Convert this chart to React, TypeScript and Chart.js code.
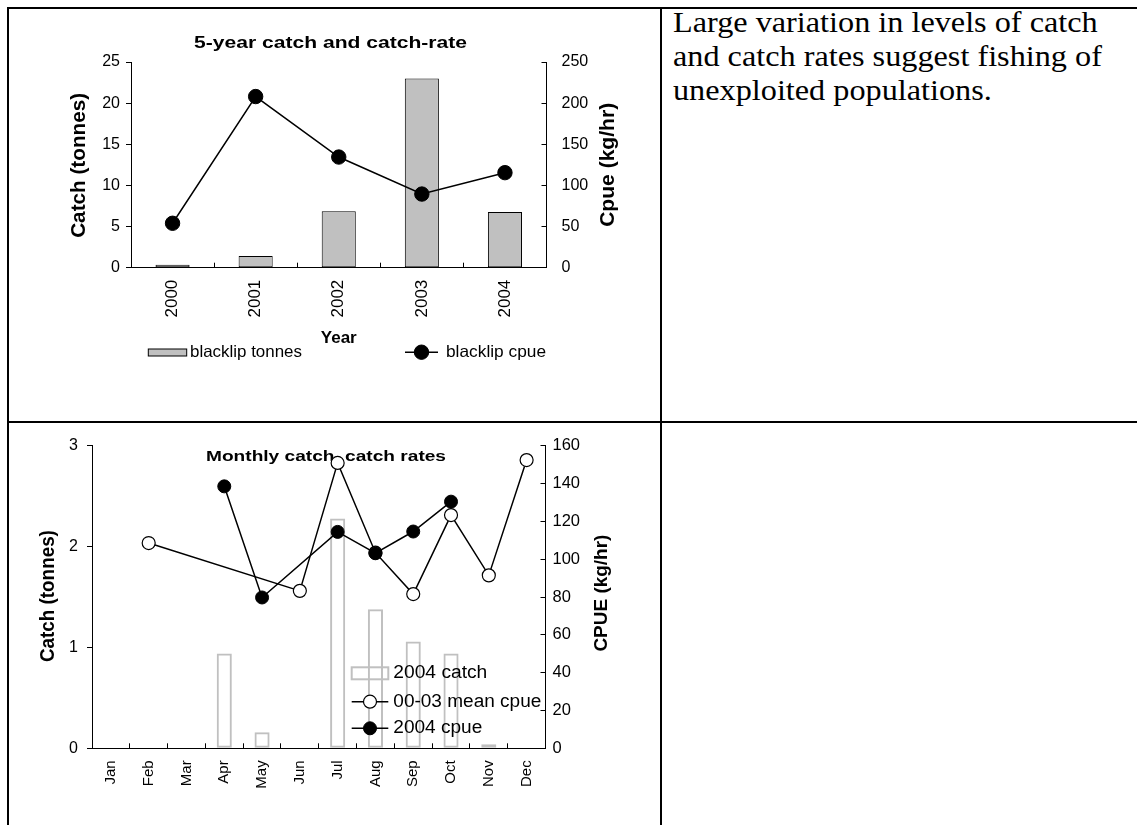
import React, { useEffect, useRef } from "react";
import { Chart, registerables } from "chart.js";

Chart.register(...registerables);

const FONT = "'Liberation Sans', Arial, Helvetica, sans-serif";

// ---- Chart 1 data ----
const years = ["2000", "2001", "2002", "2003", "2004"];
const blacklipTonnes = [0.35, 1.42, 6.85, 23.0, 6.77];
const blacklipCpue = [54, 208, 134.5, 89.5, 115.5];

// ---- Chart 2 data ----
const months = ["Jan", "Feb", "Mar", "Apr", "May", "Jun", "Jul", "Aug", "Sep", "Oct", "Nov", "Dec"];
const catch2004 = [null, null, null, 0.94, 0.16, null, 2.28, 1.38, 1.06, 0.94, 0.04, null];
const meanCpue0003 = [null, 108.6, null, null, null, 83.3, 151, 103.5, 81.6, 123.4, 91.5, 152.5];
const cpue2004 = [null, null, null, 138.6, 79.8, null, 114.5, 103.2, 114.7, 130.5, null, null];

// Titles drawn relative to the chart area (behind the data), fitted to a target length
const textPlugin = {
  id: "texts",
  beforeDatasetsDraw(chart: any, _a: any, opts: any) {
    const list = opts && opts.items;
    if (!list) return;
    const { ctx, chartArea: ca } = chart;
    for (const t of list) {
      const bx = t.ax === "left" ? ca.left : t.ax === "right" ? ca.right : (ca.left + ca.right) / 2;
      const by = t.ay === "top" ? ca.top : t.ay === "bottom" ? ca.bottom : (ca.top + ca.bottom) / 2;
      ctx.save();
      ctx.translate(bx + t.dx, by + t.dy);
      if (t.rotate) ctx.rotate((t.rotate * Math.PI) / 180);
      ctx.font = `${t.bold ? "bold " : ""}${t.size}px ${FONT}`;
      const w = ctx.measureText(t.text).width;
      if (t.width) ctx.scale(t.width / w, 1);
      ctx.textAlign = "center";
      ctx.textBaseline = "middle";
      ctx.fillStyle = "#000";
      ctx.fillText(t.text, 0, 0);
      ctx.restore();
    }
  },
};

const swatchLegendPlugin = {
  id: "swatchLegend",
  afterDraw(chart: any, _a: any, opts: any) {
    const items = opts && opts.items;
    if (!items) return;
    const { ctx, chartArea } = chart;
    for (const it of items) {
      const ds = chart.data.datasets[it.dataset];
      const x = chartArea.left + it.x;
      const y = chartArea.bottom + it.y;
      ctx.save();
      if (it.kind === "bar") {
        ctx.fillStyle = ds.backgroundColor;
        ctx.fillRect(x, y - it.h / 2, it.w, it.h);
        ctx.strokeStyle = ds.borderColor;
        ctx.lineWidth = ds.borderWidth;
        ctx.strokeRect(x, y - it.h / 2, it.w, it.h);
      } else {
        ctx.strokeStyle = ds.borderColor;
        ctx.lineWidth = ds.borderWidth;
        ctx.beginPath();
        ctx.moveTo(x, y);
        ctx.lineTo(x + it.w, y);
        ctx.stroke();
        ctx.beginPath();
        ctx.arc(x + it.w / 2, y, ds.pointRadius, 0, Math.PI * 2);
        ctx.fillStyle = ds.pointBackgroundColor;
        ctx.fill();
        ctx.lineWidth = ds.pointBorderWidth;
        ctx.strokeStyle = ds.pointBorderColor;
        ctx.stroke();
      }
      ctx.font = `${opts.size}px ${FONT}`;
      ctx.textBaseline = "middle";
      ctx.textAlign = "left";
      ctx.fillStyle = "#000";
      ctx.translate(x + it.w + it.gap, y);
      const tw = ctx.measureText(ds.label).width;
      if (it.tw) ctx.scale(it.tw / tw, 1);
      ctx.fillText(ds.label, 0, 0);
      ctx.restore();
    }
  },
};

function ChartBox({ config, style }: { config: () => any; style: React.CSSProperties }) {
  const ref = useRef<HTMLCanvasElement | null>(null);
  useEffect(() => {
    if (!ref.current) return;
    const chart = new Chart(ref.current, config());
    return () => chart.destroy();
  }, []);
  return (
    <div style={{ position: "absolute", ...style }}>
      <canvas ref={ref} />
    </div>
  );
}

const tickFont = (size: number) => ({ family: FONT, size });

function config1() {
  return {
    type: "bar",
    data: {
      labels: years,
      datasets: [
        {
          type: "line",
          label: "blacklip cpue",
          data: blacklipCpue,
          yAxisID: "y1",
          borderColor: "#000",
          borderWidth: 1.5,
          pointRadius: 7.2,
          pointBackgroundColor: "#000",
          pointBorderColor: "#000",
          pointBorderWidth: 1,
          order: 1,
        },
        {
          type: "bar",
          label: "blacklip tonnes",
          data: blacklipTonnes,
          yAxisID: "y",
          backgroundColor: "#c0c0c0",
          borderColor: "#000",
          borderWidth: 1,
          borderSkipped: false,
          barPercentage: 0.41,
          categoryPercentage: 1,
          order: 2,
        },
      ],
    },
    options: {
      responsive: true,
      maintainAspectRatio: false,
      animation: false,
      layout: { padding: { left: 0, right: 0, top: 52, bottom: 93.3 } },
      plugins: {
        legend: { display: false },
        tooltip: { enabled: false },
        title: { display: false },
        texts: {
          items: [
            { text: "5-year catch and catch-rate", bold: true, size: 16.5, width: 273, ax: "center", ay: "top", dx: -8.25, dy: -19 },
            { text: "Catch (tonnes)", bold: true, size: 20.5, width: 145, ax: "left", ay: "middle", dx: -52, dy: 0.5, rotate: -90 },
            { text: "Cpue (kg/hr)", bold: true, size: 20, width: 124, ax: "right", ay: "middle", dx: 61.5, dy: 0, rotate: -90 },
            { text: "Year", bold: true, size: 16.5, width: 36, ax: "center", ay: "bottom", dx: 0, dy: 70.5 },
          ],
        },
        swatchLegend: {
          size: 16.5,
          items: [
            { dataset: 1, kind: "bar", x: 17.3, y: 84.8, w: 38.4, h: 7, gap: 3.3, tw: 112 },
            { dataset: 0, kind: "line", x: 274, y: 84.5, w: 33, gap: 8, tw: 100 },
          ],
        },
      },
      scales: {
        x: {
          grid: { drawOnChartArea: false, offset: true, tickLength: -5, color: "#000" },
          border: { color: "#000", width: 1 },
          ticks: { minRotation: 90, maxRotation: 90, autoSkip: false, padding: 17, color: "#000", font: tickFont(17) },
          afterFit: (s: any) => { s.height = 60; },
        },
        y: {
          position: "left",
          min: 0,
          max: 25,
          grid: { drawOnChartArea: false, tickLength: 5, color: "#000" },
          border: { color: "#000", width: 1 },
          ticks: { stepSize: 5, padding: 6, color: "#000", font: tickFont(16) },
          afterFit: (s: any) => { s.width = 122; },
        },
        y1: {
          position: "right",
          min: 0,
          max: 250,
          grid: { drawOnChartArea: false, tickLength: -5, color: "#000" },
          border: { color: "#000", width: 1 },
          ticks: { stepSize: 50, padding: 20, color: "#000", font: tickFont(16) },
          afterFit: (s: any) => { s.width = 113.5; },
        },
      },
    },
    plugins: [textPlugin, swatchLegendPlugin],
  };
}

function config2() {
  return {
    type: "bar",
    data: {
      labels: months,
      datasets: [
        {
          type: "line",
          label: "2004 cpue",
          data: cpue2004,
          yAxisID: "y1",
          spanGaps: true,
          borderColor: "#000",
          borderWidth: 1.5,
          pointRadius: 6.5,
          pointBackgroundColor: "#000",
          pointBorderColor: "#000",
          pointBorderWidth: 1,
          order: 0,
        },
        {
          type: "line",
          label: "00-03 mean cpue",
          data: meanCpue0003,
          yAxisID: "y1",
          spanGaps: true,
          borderColor: "#000",
          borderWidth: 1.5,
          pointRadius: 6.5,
          pointBackgroundColor: "#fff",
          pointBorderColor: "#000",
          pointBorderWidth: 1.2,
          order: 1,
        },
        {
          type: "bar",
          label: "2004 catch",
          data: catch2004,
          yAxisID: "y",
          backgroundColor: "rgba(255,255,255,0)",
          borderColor: "#c0c0c0",
          borderWidth: 2,
          borderSkipped: false,
          barPercentage: 0.4,
          categoryPercentage: 1,
          order: 2,
        },
      ],
    },
    options: {
      responsive: true,
      maintainAspectRatio: false,
      animation: false,
      layout: { padding: { left: 0, right: 0, top: 18.3, bottom: 26.7 } },
      plugins: {
        legend: { display: false },
        tooltip: { enabled: false },
        title: { display: false },
        texts: {
          items: [
            { text: "Monthly catch, catch rates", bold: true, size: 15.5, width: 240, ax: "center", ay: "top", dx: 7.25, dy: 11 },
            { text: "Catch (tonnes)", bold: true, size: 19.5, width: 132, ax: "left", ay: "middle", dx: -43.6, dy: -1, rotate: -90 },
            { text: "CPUE (kg/hr)", bold: true, size: 19, width: 117, ax: "right", ay: "middle", dx: 56.5, dy: -4, rotate: -90 },
          ],
        },
        swatchLegend: {
          size: 18,
          items: [
            { dataset: 2, kind: "bar", x: 259.7, y: -75, w: 36.6, h: 12, gap: 5, tw: 94 },
            { dataset: 1, kind: "line", x: 259.7, y: -46.6, w: 36.6, gap: 5, tw: 148 },
            { dataset: 0, kind: "line", x: 259.7, y: -20, w: 36.6, gap: 5, tw: 89 },
          ],
        },
      },
      scales: {
        x: {
          grid: { drawOnChartArea: false, offset: true, tickLength: -5, color: "#000" },
          border: { color: "#000", width: 1 },
          ticks: { minRotation: 90, maxRotation: 90, autoSkip: false, padding: 17, color: "#000", font: tickFont(15) },
          afterFit: (s: any) => { s.height = 50; },
        },
        y: {
          position: "left",
          min: 0,
          max: 3,
          grid: { drawOnChartArea: false, tickLength: 5, color: "#000" },
          border: { color: "#000", width: 1 },
          ticks: { stepSize: 1, padding: 9, color: "#000", font: tickFont(16) },
          afterFit: (s: any) => { s.width = 83; },
        },
        y1: {
          position: "right",
          min: 0,
          max: 160,
          grid: { drawOnChartArea: false, tickLength: -5, color: "#000" },
          border: { color: "#000", width: 1 },
          ticks: { stepSize: 20, padding: 12, color: "#000", font: tickFont(16.5) },
          afterFit: (s: any) => { s.width = 114.5; },
        },
      },
    },
    plugins: [textPlugin, swatchLegendPlugin],
  };
}

const line = (s: React.CSSProperties): React.CSSProperties => ({ position: "absolute", background: "#000", ...s });

export default function App() {
  return (
    <div style={{ position: "absolute", left: 0, top: 0, width: 1137, height: 825, overflow: "hidden", background: "#fff" }}>
      {/* table borders */}
      <div style={line({ left: 7, top: 7, width: 1130, height: 2 })} />
      <div style={line({ left: 7, top: 7, width: 2, height: 818 })} />
      <div style={line({ left: 660, top: 7, width: 2, height: 818 })} />
      <div style={line({ left: 7, top: 421, width: 1130, height: 2 })} />

      <ChartBox config={config1} style={{ left: 9, top: 10, width: 651, height: 411 }} />
      <ChartBox config={config2} style={{ left: 9, top: 424, width: 651, height: 401 }} />

      <div
        style={{
          position: "absolute",
          left: 673,
          top: 5,
          fontFamily: "'Liberation Serif', 'Times New Roman', serif",
          fontSize: 29.5,
          lineHeight: "34px",
          color: "#000",
          whiteSpace: "nowrap",
          transform: "scaleX(1.093)",
          transformOrigin: "0 0",
        }}
      >
        Large variation in levels of catch
        <br />
        and catch rates suggest fishing of
        <br />
        unexploited populations.
      </div>
    </div>
  );
}
